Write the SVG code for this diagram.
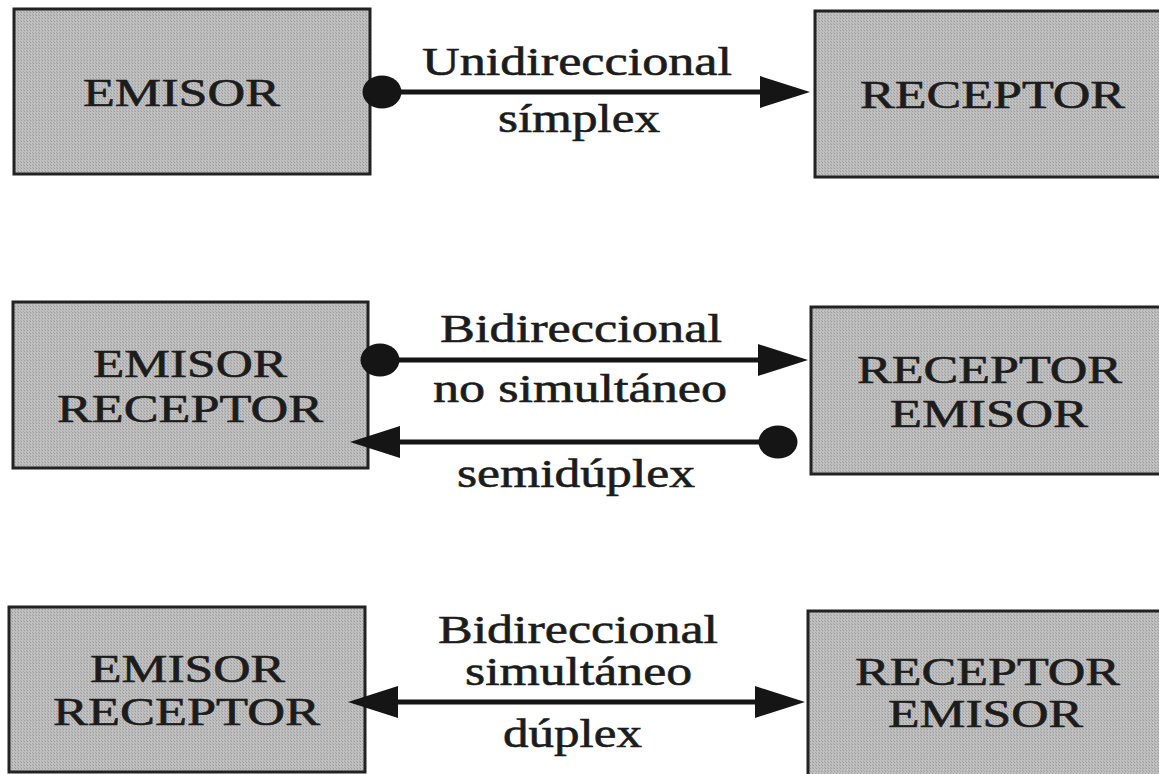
<svg xmlns="http://www.w3.org/2000/svg" width="1159" height="774" viewBox="0 0 1159 774">
<style>
.box{fill:url(#stip);stroke:#222;stroke-width:3}
.t{font-family:"Liberation Serif","Times New Roman",serif;font-size:40px;fill:#1c1c1c;stroke:#1c1c1c;stroke-width:0.6}
.c{stroke:#151515;stroke-width:5;fill:none}
</style>
<defs>
<pattern id="stip" width="3" height="3" patternUnits="userSpaceOnUse">
<rect width="3" height="3" fill="#bdbdbd"/>
<rect width="1" height="1" fill="#9c9c9c"/>
<rect x="2" y="2" width="1" height="1" fill="#a4a4a4"/>
<rect x="1" y="2" width="1" height="1" fill="#c8c8c8"/>
</pattern>
<marker id="arr" markerUnits="userSpaceOnUse" viewBox="0 0 50 32" markerWidth="50" markerHeight="32" refX="40" refY="16" orient="auto-start-reverse">
<path d="M0,0 L50,16 L0,32 Z" fill="#151515"/>
</marker>
<marker id="dot" markerUnits="userSpaceOnUse" viewBox="0 0 40 34" markerWidth="40" markerHeight="34" refX="20" refY="17" orient="auto">
<ellipse cx="20" cy="17" rx="19.5" ry="16.5" fill="#151515"/>
</marker>
</defs>
<rect width="1159" height="774" fill="#ffffff"/>

<g id="n-emisor1">
<rect class="box" x="14" y="9" width="356" height="165"/>
<text class="t" x="83" y="106" textLength="197" lengthAdjust="spacingAndGlyphs">EMISOR</text>
</g>
<g id="n-receptor1">
<rect class="box" x="815" y="11" width="360" height="166"/>
<text class="t" x="860" y="108" textLength="265" lengthAdjust="spacingAndGlyphs">RECEPTOR</text>
</g>

<g id="n-emisorreceptor2">
<rect class="box" x="13" y="302" width="355" height="166"/>
<text class="t" x="93" y="377" textLength="194" lengthAdjust="spacingAndGlyphs">EMISOR</text>
<text class="t" x="57" y="422" textLength="266" lengthAdjust="spacingAndGlyphs">RECEPTOR</text>
</g>
<g id="n-receptoremisor2">
<rect class="box" x="811" y="307" width="360" height="167"/>
<text class="t" x="857" y="383" textLength="265" lengthAdjust="spacingAndGlyphs">RECEPTOR</text>
<text class="t" x="890" y="427" textLength="198" lengthAdjust="spacingAndGlyphs">EMISOR</text>
</g>

<g id="n-emisorreceptor3">
<rect class="box" x="9" y="607" width="356" height="165"/>
<text class="t" x="90" y="682" textLength="195" lengthAdjust="spacingAndGlyphs">EMISOR</text>
<text class="t" x="53" y="725" textLength="267" lengthAdjust="spacingAndGlyphs">RECEPTOR</text>
</g>
<g id="n-receptoremisor3">
<rect class="box" x="808" y="611" width="365" height="170"/>
<text class="t" x="855" y="685" textLength="265" lengthAdjust="spacingAndGlyphs">RECEPTOR</text>
<text class="t" x="888" y="727" textLength="195" lengthAdjust="spacingAndGlyphs">EMISOR</text>
</g>

<g id="connectors">
<line class="c" x1="382" y1="92" x2="800" y2="92" marker-start="url(#dot)" marker-end="url(#arr)"/>
<line class="c" x1="380" y1="360" x2="798" y2="360" marker-start="url(#dot)" marker-end="url(#arr)"/>
<line class="c" x1="778" y1="442" x2="360" y2="442" marker-start="url(#dot)" marker-end="url(#arr)"/>
<line class="c" x1="358" y1="702" x2="795" y2="702" marker-start="url(#arr)" marker-end="url(#arr)"/>
</g>

<g id="labels">
<text class="t" x="422" y="75" textLength="310" lengthAdjust="spacingAndGlyphs">Unidireccional</text>
<text class="t" x="498" y="132" textLength="162" lengthAdjust="spacingAndGlyphs">símplex</text>
<text class="t" x="440" y="342" textLength="282" lengthAdjust="spacingAndGlyphs">Bidireccional</text>
<text class="t" x="433" y="402" textLength="294" lengthAdjust="spacingAndGlyphs">no simultáneo</text>
<text class="t" x="457" y="487" textLength="238" lengthAdjust="spacingAndGlyphs">semidúplex</text>
<text class="t" x="438" y="643" textLength="280" lengthAdjust="spacingAndGlyphs">Bidireccional</text>
<text class="t" x="465" y="685" textLength="227" lengthAdjust="spacingAndGlyphs">simultáneo</text>
<text class="t" x="503" y="747" textLength="139" lengthAdjust="spacingAndGlyphs">dúplex</text>
</g>
</svg>
